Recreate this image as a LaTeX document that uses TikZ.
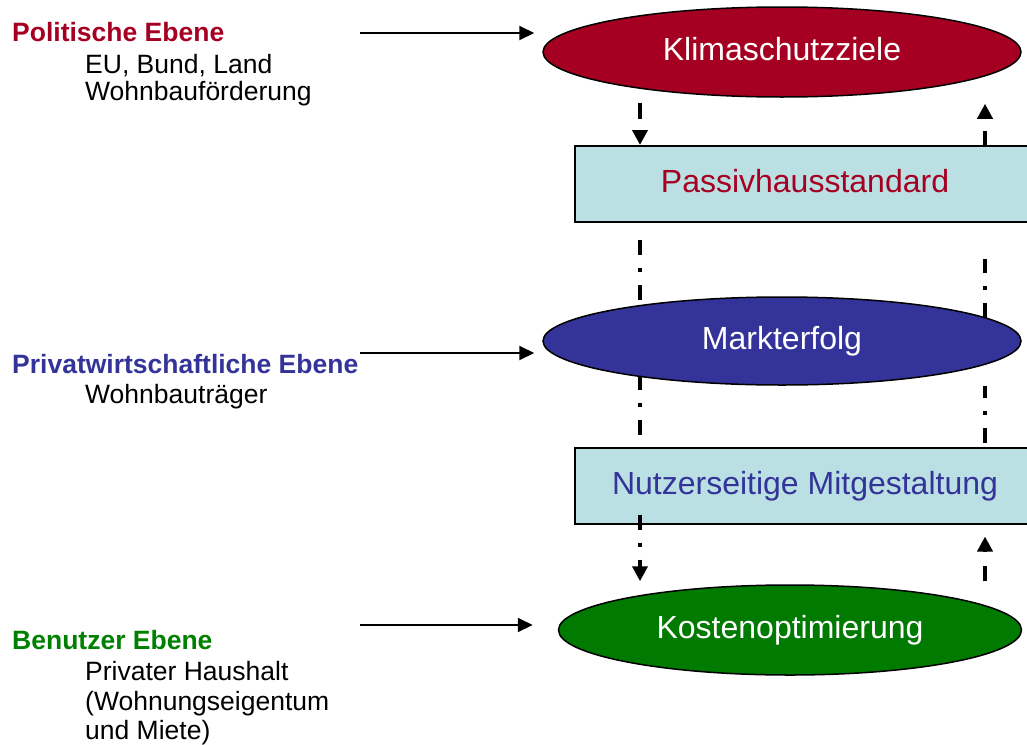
\documentclass[tikz,border=0pt]{standalone}
\usepackage{fontspec}
\setmainfont{Liberation Sans}
\usetikzlibrary{arrows.meta,shapes.geometric,backgrounds}
\definecolor{polred}{RGB}{165,0,33}
\definecolor{privblue}{RGB}{51,51,153}
\definecolor{bengreen}{RGB}{0,128,0}
\definecolor{ellgreen}{RGB}{0,122,0}
\definecolor{boxcyan}{RGB}{187,224,227}
\begin{document}
\begin{tikzpicture}[x=1pt,y=-1pt,
  ell/.style={ellipse, draw=black, line width=1.5pt, inner sep=0pt, text=white,
    font=\fontsize{32}{38}\selectfont, text height=24pt, text depth=6.4pt},
  box/.style={rectangle, draw=black, line width=2pt, fill=boxcyan,
    minimum width=460pt, minimum height=76pt, inner sep=0pt,
    font=\fontsize{32}{38}\selectfont, text height=24pt, text depth=6.4pt},
  head/.style={anchor=base west, inner sep=0pt, font=\fontsize{26.5}{30}\selectfont\bfseries},
  sub/.style={anchor=base west, inner sep=0pt, font=\fontsize{26.5}{30}\selectfont},
  feed/.style={-{Triangle[length=15pt,width=14pt]}, line width=2pt},
  flow/.style={line width=4pt, -{Triangle[length=15pt,width=15pt]}},
  dd/.style={line width=4pt, dash pattern=on 15pt off 13pt on 4pt off 13pt},
]
\useasboundingbox (0,0) rectangle (1027,744);
\clip (0,0) rectangle (1027,744);

% main nodes
\node[ell, fill=polred, minimum width=478pt, minimum height=90pt] (klima) at (782,52) {Klimaschutzziele};
\node[box, text=polred] (passiv) at (805,184) {Passivhausstandard};
\node[ell, fill=privblue, minimum width=478pt, minimum height=88pt] (markt) at (782,341) {Markterfolg};
\node[box, text=privblue] (nutzer) at (805,485.5) {Nutzerseitige Mitgestaltung};
\node[ell, fill=ellgreen, minimum width=463pt, minimum height=90pt] (kosten) at (790,630) {Kostenoptimierung};

% left labels
\node[head, text=polred] (pol) at (12,41) {Politische Ebene};
\node[sub] (pol1) at (85,73) {EU, Bund, Land};
\node[sub] (pol2) at (85,100) {Wohnbauförderung};
\node[head, text=privblue] (priv) at (12,373) {Privatwirtschaftliche Ebene};
\node[sub] (priv1) at (85,403) {Wohnbauträger};
\node[head, text=bengreen] (ben) at (12,649) {Benutzer Ebene};
\node[sub] (ben1) at (85,680) {Privater Haushalt};
\node[sub] (ben2) at (85,710) {(Wohnungseigentum};
\node[sub] (ben3) at (85,739) {und Miete)};

% horizontal arrows
\coordinate (fp) at (360,33);
\coordinate (fq) at (360,353);
\coordinate (fr) at (360,625);
\draw[feed, shorten >=8pt] (fp) -- (fp -| klima.west);
\draw[feed, shorten >=8pt] (fq) -- (fq -| markt.west);
\draw[feed, shorten >=25pt] (fr) -- (fr -| kosten.west);

% vertical connectors
\coordinate (L) at (640,0);
\coordinate (R) at (985,0);
\draw[flow, dash pattern=on 16pt off 14pt, shorten <=5pt] (L |- klima.south) -- (L |- passiv.north);
\draw[flow, dash pattern=on 14pt off 15pt, shorten >=6pt] (R |- passiv.north) -- (R |- klima.south);
\draw[dd, flow, dash pattern=on 15pt off 13pt on 4pt off 13pt, shorten <=-10pt, shorten >=3pt] (L |- nutzer.south) -- (L |- kosten.north);
\draw[flow, dash pattern=on 15pt off 14pt, shorten <=3pt, shorten >=12pt] (R |- kosten.north) -- (R |- nutzer.south);
\begin{pgfonlayer}{background}
\draw[dd, dash phase=32pt, shorten <=4pt] (L |- passiv.south) -- (L |- nutzer.north);
\draw[dd, shorten <=4pt] (R |- nutzer.north) -- (R |- markt.south);
\draw[dd, dash phase=22pt, shorten >=36pt] (R |- markt) -- (R |- passiv.south);
\end{pgfonlayer}
\end{tikzpicture}
\end{document}
